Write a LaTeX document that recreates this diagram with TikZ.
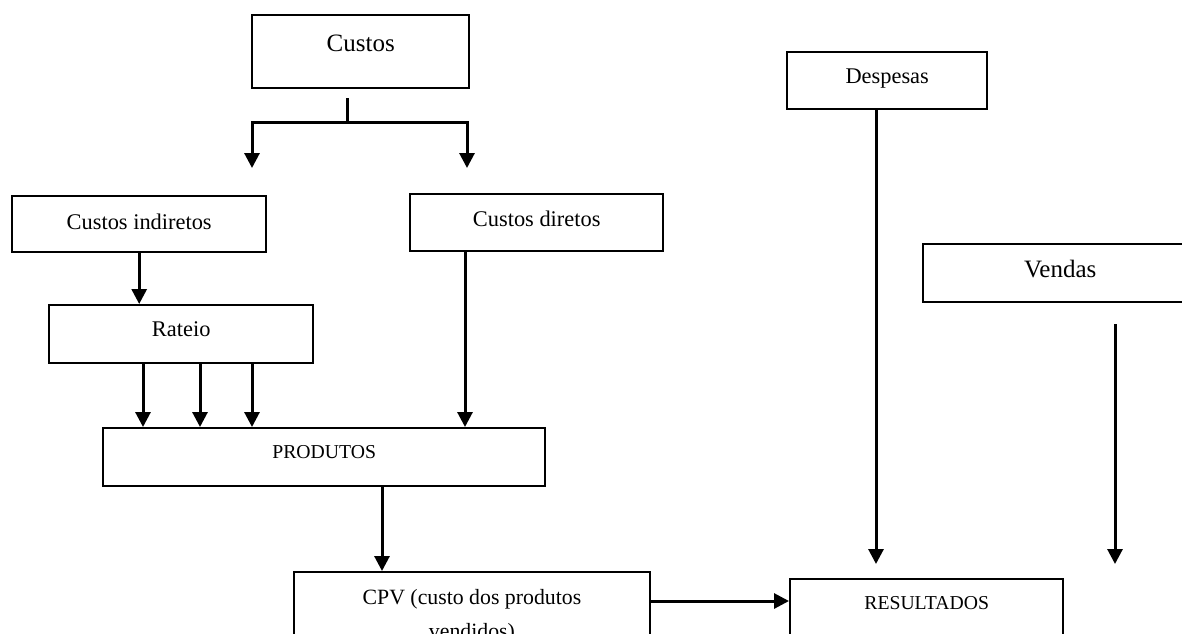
\documentclass[tikz,border=0pt]{standalone}
\usepackage{fontspec}
\setmainfont{Liberation Serif}
\usetikzlibrary{arrows.meta}

\tikzset{
  box/.style={draw=black, line width=2.4pt, rectangle, anchor=north west,
              inner sep=0pt, text=black},
  bigtext/.style={font=\fontsize{25}{30}\selectfont},
  midtext/.style={font=\fontsize{22.4}{27}\selectfont},
  captext/.style={font=\fontsize{19.7}{24}\selectfont},
  link/.style={line width=3pt, draw=black},
  arr/.style={link, -{Triangle[length=15pt, width=15pt]}},
}

\begin{document}
\begin{tikzpicture}[x=1pt, y=-1pt]
  \useasboundingbox (0,0) rectangle (1182,633);
  \clip (0,0) rectangle (1182,633);

  % boxes
  \node[box, bigtext, minimum width=217, minimum height=73,
        text height=5, text depth=6] (custos) at (251,14) {Custos};
  \node[box, midtext, minimum width=254, minimum height=56,
        text height=16, text depth=6] (ci) at (11,195) {Custos indiretos};
  \node[box, midtext, minimum width=253, minimum height=57,
        text height=13, text depth=6] (cd) at (409,193) {Custos diretos};
  \node[box, midtext, minimum width=264, minimum height=58,
        text height=10, text depth=6] (rateio) at (48,304) {Rateio};
  \node[box, captext, minimum width=442, minimum height=58,
        text height=8, text depth=6] (prod) at (102,427) {PRODUTOS};
  \node[box, midtext, minimum width=200, minimum height=57,
        text height=12, text depth=6] (desp) at (786,51) {Despesas};
  \node[box, bigtext, minimum width=274, minimum height=58,
        text height=15, text depth=6] (vendas) at (922,243) {Vendas};
  \node[box, captext, minimum width=273, minimum height=70,
        text height=2, text depth=12] (res) at (789,578) {RESULTADOS};
  \node[box, font=\fontsize{21.8}{34}\selectfont, minimum width=355.5,
        align=center, inner ysep=17.5pt] (cpv) at (293,571)
        {CPV (custo dos produtos\\vendidos)};

  % helper points for connectors
  \coordinate (stemtop) at (347,98);
  \coordinate (bar) at (347,122);
  \coordinate (tipL) at (252,168);
  \coordinate (tipR) at (467,168);
  \coordinate (ra) at (143,0);
  \coordinate (rb) at (200,0);
  \coordinate (rc) at (252,0);
  \coordinate (dcol) at (465,0);
  \coordinate (pcol) at (382,0);
  \coordinate (crow) at (0,601);
  \coordinate (desptip) at (876,564);
  \coordinate (vtop) at (1115,324);
  \coordinate (vtip) at (1115,564);

  % split of Custos
  \draw[link] (stemtop) -- (bar);
  \draw[arr] (bar) -| (tipL);
  \draw[arr] (bar) -| (tipR);

  % indirect costs through Rateio
  \draw[arr] (ci.south) -- (ci.south |- rateio.north);
  \draw[arr] (rateio.south -| ra) -- (prod.north -| ra);
  \draw[arr] (rateio.south -| rb) -- (prod.north -| rb);
  \draw[arr] (rateio.south -| rc) -- (prod.north -| rc);

  % direct costs
  \draw[arr] (cd.south -| dcol) -- (prod.north -| dcol);

  % products to CPV, CPV to results
  \draw[arr] (prod.south -| pcol) -- (cpv.north -| pcol);
  \draw[arr] (cpv.east |- crow) -- (res.west |- crow);

  % expenses and sales
  \draw[arr] (desp.south -| desptip) -- (desptip);
  \draw[arr] (vtop) -- (vtip);
\end{tikzpicture}
\end{document}
